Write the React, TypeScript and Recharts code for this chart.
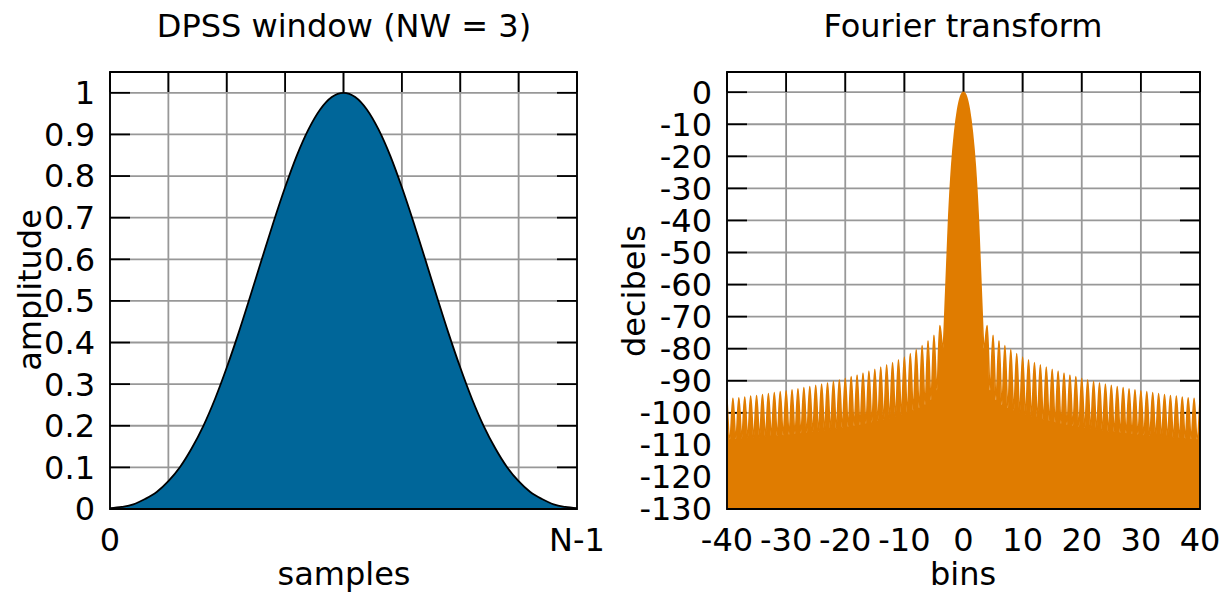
import React from 'react'
import { Area, ComposedChart, CartesianGrid, ReferenceArea, XAxis, YAxis } from 'recharts'

// Left panel: window samples and amplitude
const sampleIndex = [
  0, 1, 2, 3, 4, 5, 6, 7, 8, 9, 10, 11, 12, 13, 14, 15, 16, 17, 18, 19, 20,
  21, 22, 23, 24, 25, 26, 27, 28, 29, 30, 31, 32, 33, 34, 35, 36, 37, 38, 39, 40,
]
const amplitude = [
  0.002, 0.005, 0.011, 0.024, 0.041, 0.067, 0.101, 0.146, 0.2, 0.265, 0.34,
  0.422, 0.51, 0.6, 0.689, 0.773, 0.849, 0.912, 0.96, 0.99, 1.0,
  0.99, 0.96, 0.912, 0.849, 0.773, 0.689, 0.6, 0.51, 0.422, 0.34,
  0.265, 0.2, 0.146, 0.101, 0.067, 0.041, 0.024, 0.011, 0.005, 0.002,
]
const sampleTicks = [0, 5, 10, 15, 20, 25, 30, 35, 40]
const amplitudeTicks = [0, 0.1, 0.2, 0.3, 0.4, 0.5, 0.6, 0.7, 0.8, 0.9, 1]

// Right panel: spectrum in decibels
const bins = [
  -40, -39.5, -39, -38.5, -38, -37.5, -37, -36.5, -36, -35.5, -35, -34.5, -34, -33.5, -33, -32.5,
  -32, -31.5, -31, -30.5, -30, -29.5, -29, -28.5, -28, -27.5, -27, -26.5, -26, -25.5, -25, -24.5,
  -24, -23.5, -23, -22.5, -22, -21.5, -21, -20.5, -20, -19.5, -19, -18.5, -18, -17.5, -17, -16.5,
  -16, -15.5, -15, -14.5, -14, -13.5, -13, -12.5, -12, -11.5, -11, -10.5, -10, -9.5, -9, -8.5,
  -8, -7.5, -7, -6.5, -6, -5.5, -5, -4.5, -4, -3.5, -3, -2.5, -2, -1.5, -1, -0.5,
  0,
  0.5, 1, 1.5, 2, 2.5, 3, 3.5, 4, 4.5, 5, 5.5, 6, 6.5, 7, 7.5, 8,
  8.5, 9, 9.5, 10, 10.5, 11, 11.5, 12, 12.5, 13, 13.5, 14, 14.5, 15, 15.5, 16,
  16.5, 17, 17.5, 18, 18.5, 19, 19.5, 20, 20.5, 21, 21.5, 22, 22.5, 23, 23.5, 24,
  24.5, 25, 25.5, 26, 26.5, 27, 27.5, 28, 28.5, 29, 29.5, 30, 30.5, 31, 31.5, 32,
  32.5, 33, 33.5, 34, 34.5, 35, 35.5, 36, 36.5, 37, 37.5, 38, 38.5, 39, 39.5, 40,
]
const decibels = [
  -95.8, -108.3, -95.5, -108.2, -95.3, -108.0, -95.1, -107.9, -94.8, -107.8, -94.6, -107.6, -94.3, -107.5, -94.0, -107.3,
  -93.7, -107.2, -93.4, -107.0, -93.1, -106.8, -92.8, -106.6, -92.5, -106.4, -92.1, -106.2, -91.8, -106.0, -91.4, -105.8,
  -91.0, -105.5, -90.6, -105.3, -90.2, -105.0, -89.7, -104.7, -89.2, -104.4, -88.7, -104.1, -88.2, -103.8, -87.6, -103.4,
  -87.0, -103.0, -86.4, -102.6, -85.7, -102.2, -85.0, -101.7, -84.3, -101.2, -83.5, -100.6, -82.6, -100.0, -81.5, -99.3,
  -80.3, -98.5, -79.0, -97.5, -77.5, -96.0, -75.8, -93.0, -72.8, -80.0, -62.0, -39.0, -23.0, -12.5, -5.5, -1.4,
  0,
  -1.4, -5.5, -12.5, -23.0, -39.0, -62.0, -80.0, -72.8, -93.0, -75.8, -96.0, -77.5, -97.5, -79.0, -98.5, -80.3,
  -99.3, -81.5, -100.0, -82.6, -100.6, -83.5, -101.2, -84.3, -101.7, -85.0, -102.2, -85.7, -102.6, -86.4, -103.0, -87.0,
  -103.4, -87.6, -103.8, -88.2, -104.1, -88.7, -104.4, -89.2, -104.7, -89.7, -105.0, -90.2, -105.3, -90.6, -105.5, -91.0,
  -105.8, -91.4, -106.0, -91.8, -106.2, -92.1, -106.4, -92.5, -106.6, -92.8, -106.8, -93.1, -107.0, -93.4, -107.2, -93.7,
  -107.3, -94.0, -107.5, -94.3, -107.6, -94.6, -107.8, -94.8, -107.9, -95.1, -108.0, -95.3, -108.2, -95.5, -108.3, -95.8,
]
const binTicks = [-40, -30, -20, -10, 0, 10, 20, 30, 40]
const decibelTicks = [-130, -120, -110, -100, -90, -80, -70, -60, -50, -40, -30, -20, -10, 0]

const windowData = sampleIndex.map((s, i) => ({ s, amp: amplitude[i] }))
const spectrumData = bins.map((b, i) => ({ bin: b, db: decibels[i] }))

const FONT = 'DejaVu Sans'
const FONT_SIZE = 32
const tickText = { fontSize: FONT_SIZE, fill: '#000', fontFamily: FONT }
const tickMark = { stroke: '#000', strokeWidth: 1.8 }
const gridColor = '#989898'
const noLabel = () => ''

const sampleLabel = (v: number) => (v === 0 ? '0' : v === 40 ? 'N-1' : '')

const App = () => {
  return (
    <div style={{ position: 'absolute', left: 0, top: 0, width: 1223, height: 592, background: '#fff' }}>
      <div style={{ position: 'absolute', left: 0, top: 0 }}>
        <ComposedChart width={611} height={592} data={windowData} margin={{ top: 71, right: 33, bottom: 82, left: 109 }}>
          <CartesianGrid stroke={gridColor} strokeWidth={1.8} />
          <XAxis
            dataKey="s"
            type="number"
            domain={[0, 40]}
            ticks={sampleTicks}
            interval={0}
            tickFormatter={sampleLabel}
            height={1}
            tickSize={0}
            tickMargin={19}
            axisLine={false}
            tickLine={false}
            tick={tickText}
          />
          <XAxis
            xAxisId="top"
            dataKey="s"
            orientation="top"
            type="number"
            domain={[0, 40]}
            ticks={sampleTicks}
            interval={0}
            height={1}
            tickSize={-20}
            axisLine={false}
            tickLine={tickMark}
            tick={tickText}
            tickFormatter={noLabel}
          />
          <YAxis
            type="number"
            domain={[0, 1.05]}
            ticks={amplitudeTicks}
            interval={0}
            width={1}
            tickSize={-20}
            tickMargin={35}
            axisLine={false}
            tickLine={tickMark}
            tick={tickText}
          />
          <YAxis
            yAxisId="right"
            orientation="right"
            type="number"
            domain={[0, 1.05]}
            ticks={amplitudeTicks}
            interval={0}
            width={1}
            tickSize={-20}
            axisLine={false}
            tickLine={tickMark}
            tick={tickText}
            tickFormatter={noLabel}
          />
          {/* invisible copy that keeps the mirrored axes bound to data */}
          <Area
            xAxisId="top"
            yAxisId="right"
            dataKey="amp"
            type="monotone"
            stroke="none"
            fill="none"
            isAnimationActive={false}
          />
          <Area
            dataKey="amp"
            type="monotone"
            stroke="#000"
            strokeWidth={1.8}
            fill="#006699"
            fillOpacity={1}
            isAnimationActive={false}
            zIndex={600}
          />
          <ReferenceArea x1={0} x2={40} y1={0} y2={1.05} fill="none" stroke="#000" strokeWidth={1.8} zIndex={700} />
        </ComposedChart>
      </div>

      <div style={{ position: 'absolute', left: 611, top: 0 }}>
        <ComposedChart width={612} height={592} data={spectrumData} margin={{ top: 71, right: 22, bottom: 82, left: 115 }}>
          <CartesianGrid stroke={gridColor} strokeWidth={1.8} />
          <XAxis
            dataKey="bin"
            type="number"
            domain={[-40, 40]}
            ticks={binTicks}
            interval={0}
            height={1}
            tickSize={0}
            tickMargin={19}
            axisLine={false}
            tickLine={false}
            tick={tickText}
          />
          <XAxis
            xAxisId="top"
            dataKey="bin"
            orientation="top"
            type="number"
            domain={[-40, 40]}
            ticks={binTicks}
            interval={0}
            height={1}
            tickSize={-20}
            axisLine={false}
            tickLine={tickMark}
            tick={tickText}
            tickFormatter={noLabel}
          />
          <YAxis
            type="number"
            domain={[-130, 6.3]}
            ticks={decibelTicks}
            interval={0}
            width={1}
            tickSize={-20}
            tickMargin={35}
            axisLine={false}
            tickLine={tickMark}
            tick={tickText}
          />
          <YAxis
            yAxisId="right"
            orientation="right"
            type="number"
            domain={[-130, 6.3]}
            ticks={decibelTicks}
            interval={0}
            width={1}
            tickSize={-20}
            axisLine={false}
            tickLine={tickMark}
            tick={tickText}
            tickFormatter={noLabel}
          />
          <Area
            xAxisId="top"
            yAxisId="right"
            dataKey="db"
            type="monotone"
            baseValue={-130}
            stroke="none"
            fill="none"
            isAnimationActive={false}
          />
          <Area
            dataKey="db"
            type="monotone"
            baseValue={-130}
            stroke="#e07c00"
            strokeWidth={1.6}
            fill="#e07c00"
            fillOpacity={1}
            isAnimationActive={false}
            zIndex={600}
          />
          <ReferenceArea x1={-40} x2={40} y1={-130} y2={6.3} fill="none" stroke="#000" strokeWidth={1.8} zIndex={700} />
        </ComposedChart>
      </div>

      {/* titles and axis names */}
      <svg
        width={1223}
        height={592}
        style={{ position: 'absolute', left: 0, top: 0, pointerEvents: 'none' }}
        fontFamily={FONT}
        fontSize={FONT_SIZE}
        fill="#000"
      >
        <text x={344} y={37} textAnchor="middle">DPSS window (NW = 3)</text>
        <text x={963} y={37} textAnchor="middle">Fourier transform</text>
        <text x={344} y={585} textAnchor="middle">samples</text>
        <text x={963} y={585} textAnchor="middle">bins</text>
        <text x={41} y={290} textAnchor="middle" transform="rotate(-90 41 290)">amplitude</text>
        <text x={645} y={291} textAnchor="middle" transform="rotate(-90 645 291)">decibels</text>
      </svg>
    </div>
  )
}

export default App
